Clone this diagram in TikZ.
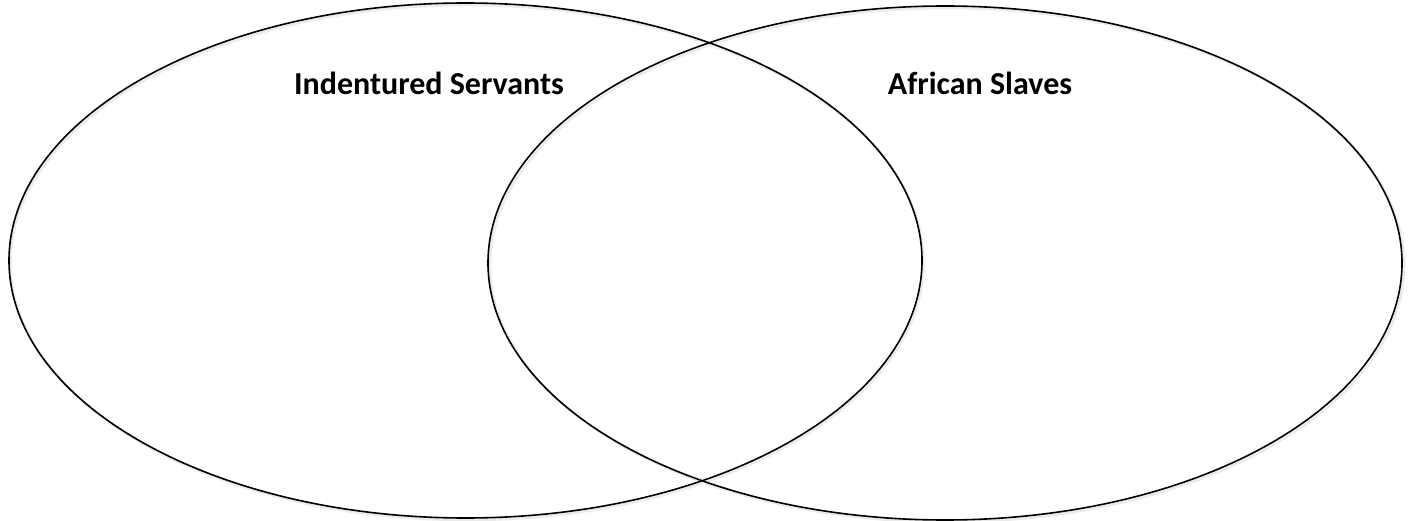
\documentclass[tikz,border=0pt]{standalone}
\usepackage{fontspec}
\setmainfont{Carlito}
\usetikzlibrary{shapes.geometric}
\begin{document}
\begin{tikzpicture}[x=1pt,y=-1pt,
  venn/.style={ellipse, draw=black, line width=1.6pt, inner sep=0pt, outer sep=0pt},
  shade/.style={ellipse, draw=black!8, line width=2.5pt, inner sep=0pt, outer sep=0pt},
  title/.style={font=\fontsize{32}{37}\selectfont\bfseries, inner sep=0pt, anchor=base}]
  \useasboundingbox (0,0) rectangle (1413,521);
  \node[shade, minimum width=913pt, minimum height=515pt] (Ls) at (467,262.5) {};
  \node[shade, minimum width=914pt, minimum height=514pt] (Rs) at (947,265) {};
  \node[venn, minimum width=913pt, minimum height=515pt] (L) at (465.5,260.5) {};
  \node[venn, minimum width=914pt, minimum height=514pt] (R) at (945,263) {};
  \node[title] (lt) at (429,95) {Indentured Servants};
  \node[title] (rt) at (980,95) {African Slaves};
\end{tikzpicture}
\end{document}
